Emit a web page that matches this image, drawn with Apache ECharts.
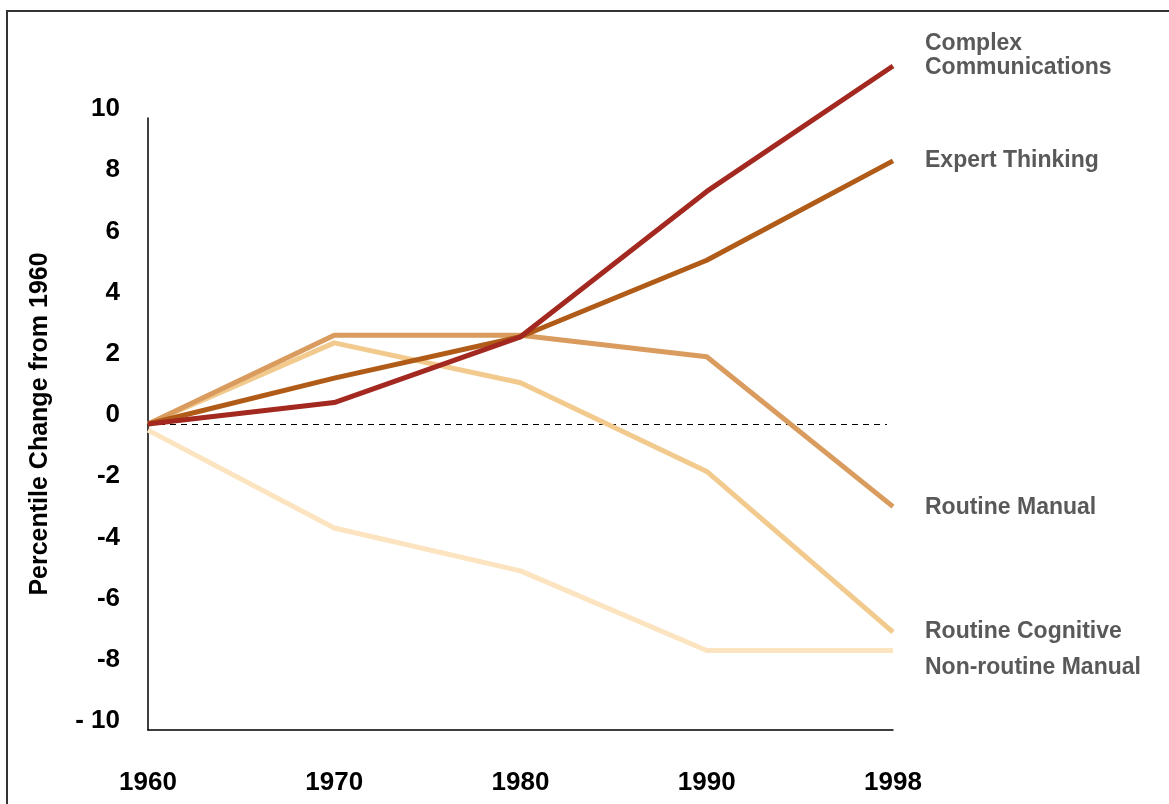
<!DOCTYPE html>
<html>
<head>
<meta charset="utf-8">
<script src="https://cdn.jsdelivr.net/npm/echarts@6/dist/echarts.min.js"></script>
<style>
  html, body { margin: 0; padding: 0; background: #fff; }
  #chart { width: 1169px; height: 804px; }
</style>
</head>
<body>
<div id="chart"></div>
<script>
// 技能变化折线图
var years = ['1960', '1970', '1980', '1990', '1998'];
var seriesNames = ['Complex\nCommunications', 'Expert Thinking', 'Routine Manual', 'Routine Cognitive', 'Non-routine Manual'];
var complexComm = [0, 0.7, 2.85, 7.6, 11.7];
var expertThinking = [0, 1.5, 2.85, 5.35, 8.6];
var routineManual = [0, 2.9, 2.9, 2.2, -2.7];
var routineCognitive = [0, 2.65, 1.35, -1.55, -6.8];
var nonroutineManual = [-0.2, -3.4, -4.8, -7.4, -7.4];

var allData = [complexComm, expertThinking, routineManual, routineCognitive, nonroutineManual];
var colors = ['#a3281f', '#b05c18', '#d99c5e', '#f2ca8d', '#fbe4bf'];
var labelDy = [-10, 0, 1, 0, 17];

(function(){
    var myChart = echarts.init(document.getElementById('chart'));
    var series = allData.map(function(d, i){
        var s = {
            name: seriesNames[i],
            type: 'line',
            data: d,
            z: 10 - i,
            clip: false, // 允许超出10
            symbol: 'none',
            lineStyle: { color: colors[i], width: 5 },
            itemStyle: { color: colors[i] },
            endLabel: {
                show: true,
                formatter: seriesNames[i],
                distance: 32,
                offset: [0, labelDy[i]],
                color: '#595959',
                fontFamily: 'Liberation Sans, Arial, sans-serif',
                fontWeight: 'bold',
                fontSize: 23,
                lineHeight: 24,
                align: 'left'
            }
        };
        return s;
    });
    // 零线 (虚线)
    series[4].markLine = {
        silent: true,
        symbol: 'none',
        label: { show: false },
        lineStyle: { color: '#000', type: [6, 5], width: 1 },
        data: [[{ coord: ['1960', 0] }, { coord: ['1998', 0], x: 887 }]]
    };
    series.reverse();

    var option = {
        backgroundColor: '#fff',
        animation: false,
        grid: { left: 148, right: 276, top: 118, bottom: 74 },
        graphic: [{
            type: 'rect',
            silent: true,
            shape: { x: 7, y: 11, width: 1200, height: 900 },
            style: { fill: 'none', stroke: '#333', lineWidth: 2 }
        }],
        xAxis: {
            type: 'category',
            data: years,
            boundaryGap: false,
            axisLine: { onZero: false, lineStyle: { color: '#000', width: 1.5 } },
            axisTick: { show: false },
            axisLabel: {
                margin: 40,
                color: '#000',
                fontFamily: 'Liberation Sans, Arial, sans-serif',
                fontWeight: 'bold',
                fontSize: 26
            },
            splitLine: { show: false }
        },
        yAxis: {
            type: 'value',
            min: -10,
            max: 10,
            interval: 2,
            name: 'Percentile Change from 1960',
            nameLocation: 'middle',
            nameGap: 95,
            nameTextStyle: {
                color: '#000',
                fontFamily: 'Liberation Sans, Arial, sans-serif',
                fontWeight: 'bold',
                fontSize: 25
            },
            axisLine: { show: true, lineStyle: { color: '#000', width: 1.5 } },
            axisTick: { show: false },
            splitLine: { show: false },
            axisLabel: {
                margin: 28,
                color: '#000',
                fontFamily: 'Liberation Sans, Arial, sans-serif',
                fontWeight: 'bold',
                fontSize: 26,
                verticalAlign: 'bottom',
                lineHeight: 18,
                formatter: function(v){ return v === -10 ? '- 10' : String(v); }
            }
        },
        series: series
    };
    myChart.setOption(option);
    window.addEventListener('resize', function(){
        myChart.resize();
    });
})();
</script>
</body>
</html>
